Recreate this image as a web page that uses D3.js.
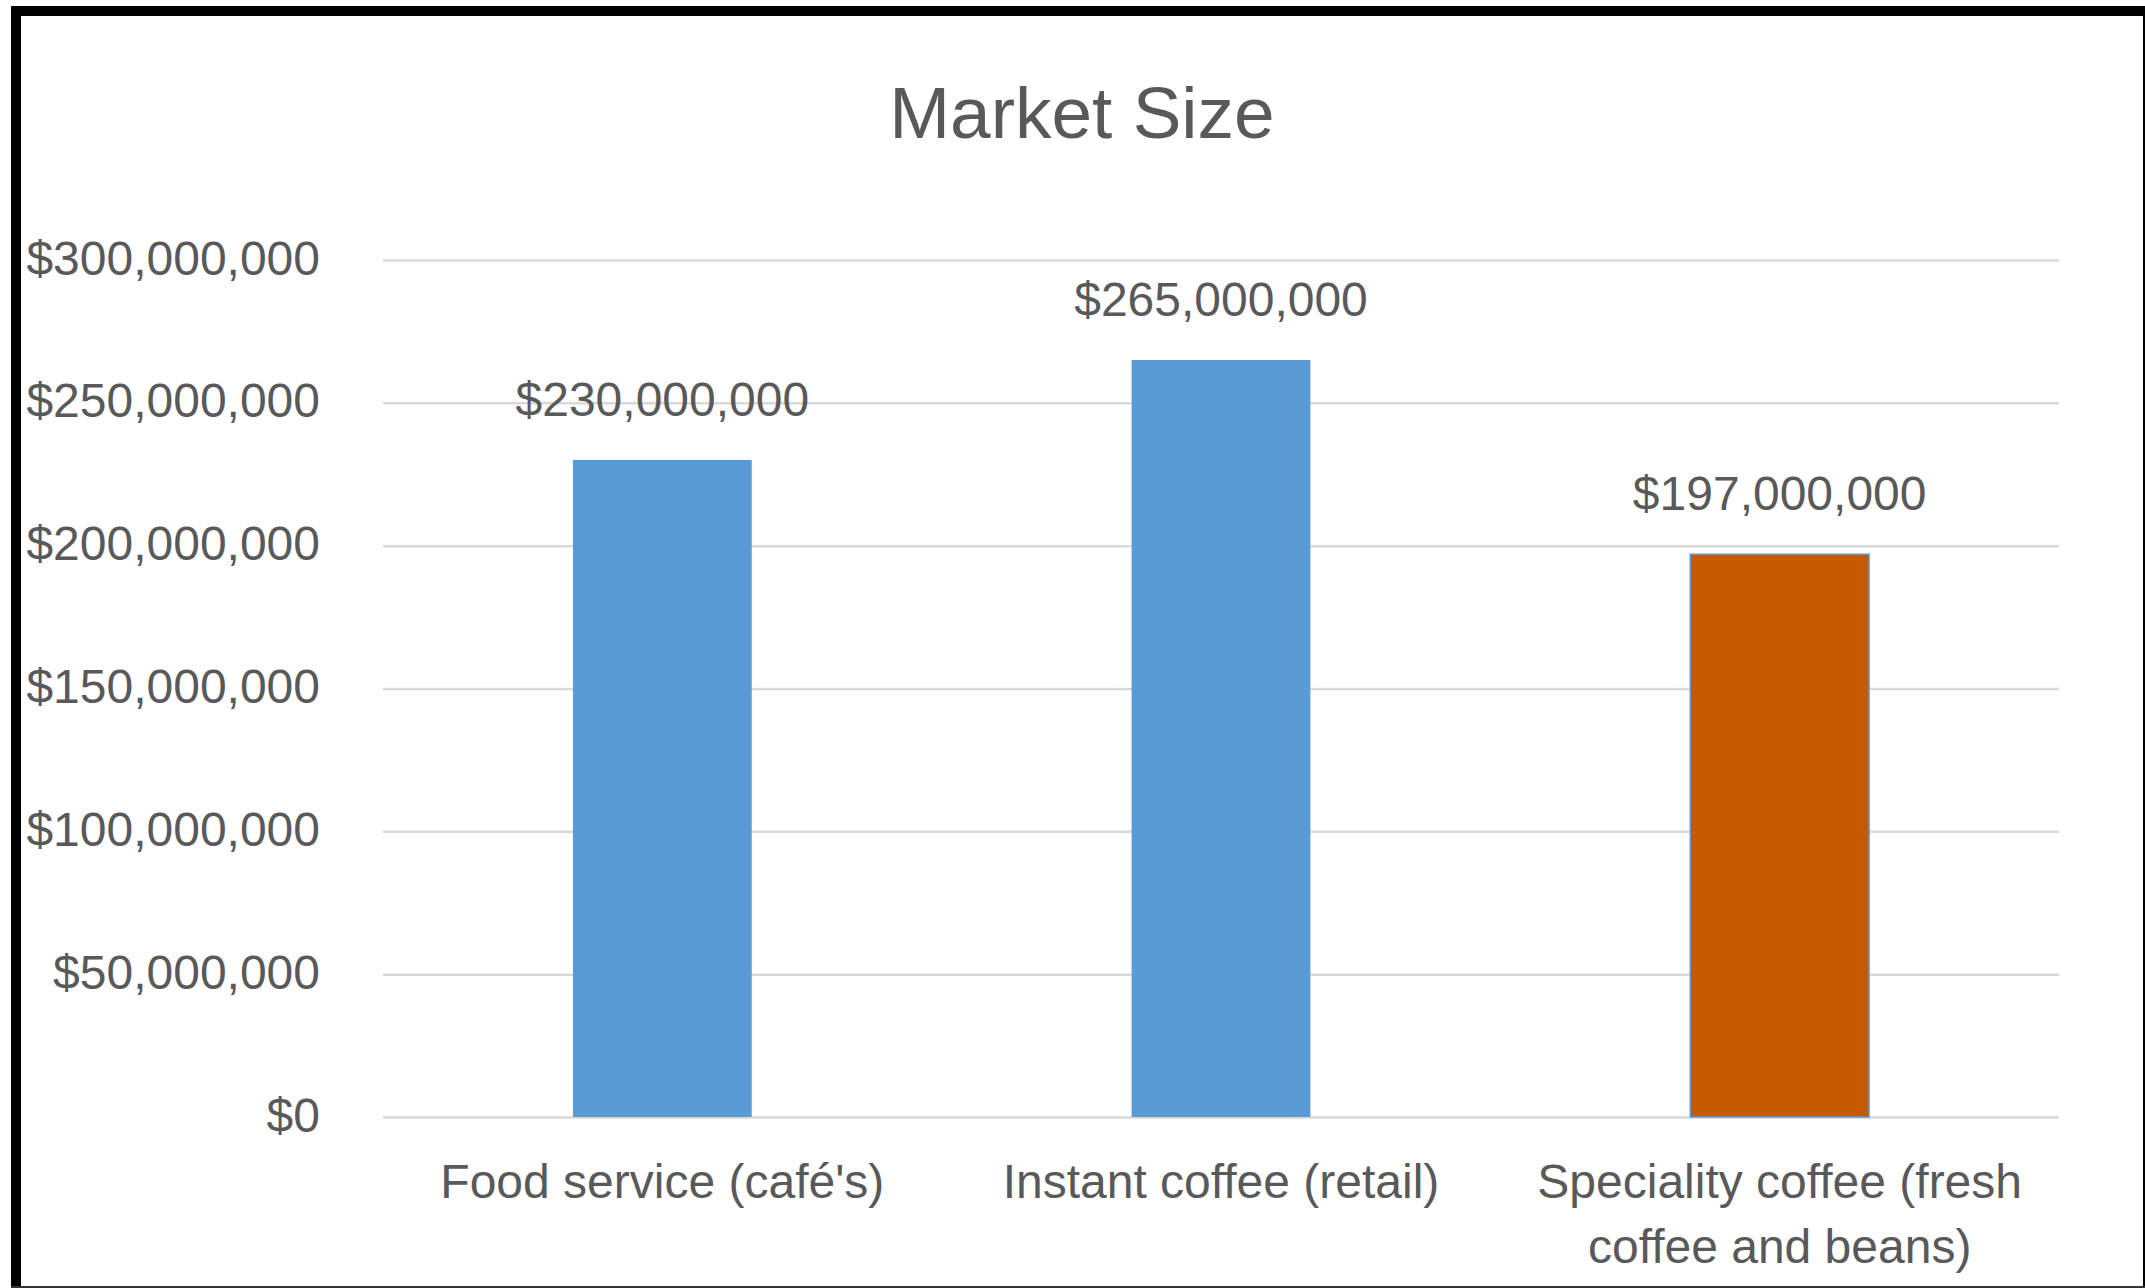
<!DOCTYPE html>
<html>
<head>
<meta charset="utf-8">
<script src="https://cdn.jsdelivr.net/npm/d3@7"></script>
<style>
  html, body { margin: 0; padding: 0; background: #fff; }
  svg { display: block; }
  text { font-family: "Liberation Sans", Arial, sans-serif; fill: #595959; }
</style>
</head>
<body>
<svg id="chart" width="2145" height="1288"></svg>
<script>
// Market size by coffee segment
const categories = ["Food service (café's)", "Instant coffee (retail)", "Speciality coffee (fresh coffee and beans)"];
const values = [230000000, 265000000, 197000000];
const barColors = ["#5B9BD5", "#5B9BD5", "#C55A00"];
const yTicks = [0, 50000000, 100000000, 150000000, 200000000, 250000000, 300000000];
const title = "Market Size";

const W = 2145, H = 1288;
const plot = { left: 383, right: 2059, top: 260, bottom: 1117 };

const svg = d3.select("#chart");

// frame around the chart area
const frame = svg.append("g");
frame.append("rect").attr("x", 11).attr("y", 6).attr("width", 10).attr("height", H - 6).attr("fill", "#000");
frame.append("rect").attr("x", 11).attr("y", 6).attr("width", W - 11).attr("height", 10).attr("fill", "#000");
frame.append("rect").attr("x", 2143).attr("y", 6).attr("width", 2).attr("height", H - 6).attr("fill", "#000");
frame.append("rect").attr("x", 11).attr("y", 1286).attr("width", W - 11).attr("height", 2).attr("fill", "#333");

const x = d3.scaleBand()
  .domain(categories)
  .range([plot.left, plot.right])
  .paddingInner(0.68)
  .paddingOuter(0.34);

const y = d3.scaleLinear()
  .domain([0, 300000000])
  .range([plot.bottom, plot.top]);

// title
svg.append("text")
  .attr("x", 1082)
  .attr("y", 138)
  .attr("text-anchor", "middle")
  .style("font-size", "73px")
  .text(title);

// horizontal gridlines
const grid = svg.append("g")
  .attr("transform", `translate(${plot.left},0)`)
  .call(d3.axisLeft(y).tickValues(yTicks).tickSize(-(plot.right - plot.left)).tickFormat(""));
grid.select(".domain").remove();
grid.selectAll(".tick line").attr("stroke", "#D9D9D9").attr("stroke-width", 2.5);

// y-axis labels
const yAxis = svg.append("g")
  .attr("transform", `translate(${plot.left},0)`)
  .call(d3.axisLeft(y).tickValues(yTicks).tickSize(0).tickPadding(63).tickFormat(d3.format("$,")));
yAxis.select(".domain").remove();
yAxis.selectAll("text")
  .attr("dy", null)
  .attr("y", 14)
  .style("font-size", "48px")
  .style("font-family", "'Liberation Sans', Arial, sans-serif")
  .attr("fill", "#595959");

// bars
svg.append("g").selectAll("rect")
  .data(categories)
  .join("rect")
  .attr("x", d => x(d))
  .attr("width", x.bandwidth())
  .attr("y", (d, i) => y(values[i]))
  .attr("height", (d, i) => y(0) - y(values[i]))
  .attr("fill", (d, i) => barColors[i])
  .attr("stroke", (d, i) => i === 2 ? "#5B9BD5" : "none")
  .attr("stroke-width", 1.5);

// value labels
const fmt = d3.format("$,");
svg.append("g").selectAll("text")
  .data(categories)
  .join("text")
  .attr("x", d => x(d) + x.bandwidth() / 2)
  .attr("y", (d, i) => y(values[i]) - 44)
  .attr("text-anchor", "middle")
  .style("font-size", "48px")
  .text((d, i) => fmt(values[i]));

// x-axis category labels, wrapped to the band width
const xAxis = svg.append("g")
  .attr("transform", `translate(0,${plot.bottom})`)
  .call(d3.axisBottom(x).tickSize(0).tickPadding(0));
xAxis.select(".domain").remove();
xAxis.selectAll("text")
  .attr("dy", null)
  .attr("y", 81)
  .style("font-size", "48px")
  .style("font-family", "'Liberation Sans', Arial, sans-serif")
  .attr("fill", "#595959")
  .each(function(d) {
    const t = d3.select(this);
    const words = d.split(" ");
    const maxW = x.step() - 30;
    t.text(null);
    let line = [];
    let lineNo = 0;
    let tspan = t.append("tspan").attr("x", 0).attr("dy", 0);
    words.forEach(w => {
      line.push(w);
      tspan.text(line.join(" "));
      if (tspan.node().getComputedTextLength() > maxW && line.length > 1) {
        line.pop();
        tspan.text(line.join(" "));
        line = [w];
        lineNo++;
        tspan = t.append("tspan").attr("x", 0).attr("dy", 65).text(w);
      }
    });
  });
</script>
</body>
</html>
